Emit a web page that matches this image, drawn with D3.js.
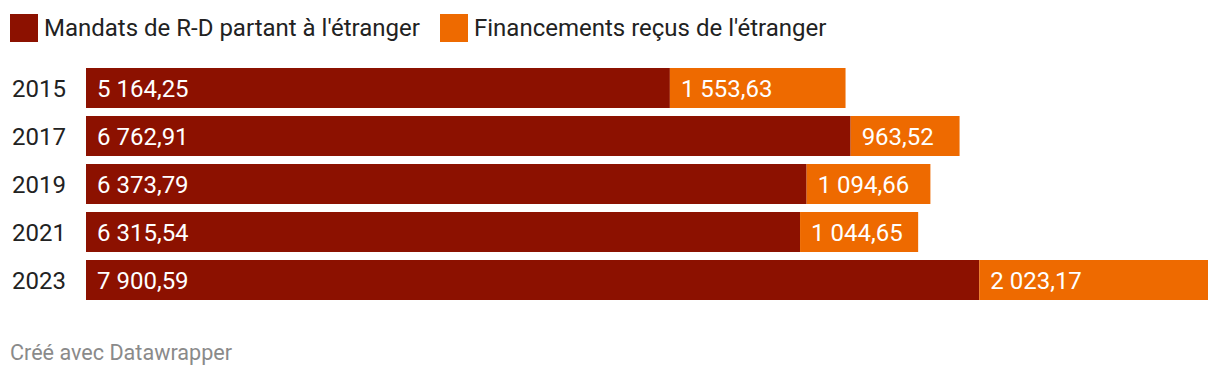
<!DOCTYPE html>
<html>
<head>
<meta charset="utf-8">
<script src="https://cdn.jsdelivr.net/npm/d3@7"></script>
<style>
  body { margin: 0; background: #fff; font-family: Roboto, sans-serif; }
</style>
</head>
<body>
<script>
// Data
var years = ['2015', '2017', '2019', '2021', '2023'];
var mandats = [5164.25, 6762.91, 6373.79, 6315.54, 7900.59];
var financements = [1553.63, 963.52, 1094.66, 1044.65, 2023.17];
var seriesNames = ["Mandats de R-D partant à l'étranger", "Financements reçus de l'étranger"];
var colors = ['#8c1100', '#ee6a00'];

var width = 1220, height = 378;
var barLeft = 86, barRight = 1208, barTop = 68;
var step = 48, barH = 40;

var fmt = function(v) {
    var s = v.toFixed(2).split('.');
    return s[0].replace(/\B(?=(\d{3})+(?!\d))/g, '\u00a0') + ',' + s[1];
};

var svg = d3.select('body').append('svg')
    .attr('width', width)
    .attr('height', height)
    .style('font-family', 'Roboto, sans-serif');

var x = d3.scaleLinear()
    .domain([0, d3.max(years, function(d, i) { return mandats[i] + financements[i]; })])
    .range([barLeft, barRight]);

var y = d3.scaleBand()
    .domain(years)
    .range([barTop, barTop + step * (years.length - 1) + barH])
    .paddingInner((step - barH) / step)
    .paddingOuter(0);

// Legend
var legendX = [10, 440];
seriesNames.forEach(function(name, i) {
    svg.append('rect')
        .attr('x', legendX[i]).attr('y', 14)
        .attr('width', 28).attr('height', 28)
        .attr('fill', colors[i]);
    svg.append('text')
        .attr('x', legendX[i] + 34).attr('y', 36)
        .attr('font-size', 24).attr('fill', '#222')
        .text(name);
});

// Rows
var rows = svg.selectAll('.row')
    .data(years)
    .enter().append('g')
    .attr('class', 'row');

rows.append('text')
    .attr('x', 12)
    .attr('y', function(d) { return y(d) + y.bandwidth() / 2 + 8.5; })
    .attr('font-size', 24).attr('fill', '#222')
    .text(function(d) { return d; });

rows.append('rect')
    .attr('x', x(0))
    .attr('y', function(d) { return y(d); })
    .attr('height', y.bandwidth())
    .attr('width', function(d, i) { return x(mandats[i]) - x(0); })
    .attr('fill', colors[0]);

rows.append('rect')
    .attr('x', function(d, i) { return x(mandats[i]); })
    .attr('y', function(d) { return y(d); })
    .attr('height', y.bandwidth())
    .attr('width', function(d, i) { return x(mandats[i] + financements[i]) - x(mandats[i]); })
    .attr('fill', colors[1]);

rows.append('text')
    .attr('x', x(0) + 11)
    .attr('y', function(d) { return y(d) + y.bandwidth() / 2 + 8.5; })
    .attr('font-size', 24).attr('fill', '#fff')
    .text(function(d, i) { return fmt(mandats[i]); });

rows.append('text')
    .attr('x', function(d, i) { return x(mandats[i]) + 11; })
    .attr('y', function(d) { return y(d) + y.bandwidth() / 2 + 8.5; })
    .attr('font-size', 24).attr('fill', '#fff')
    .text(function(d, i) { return fmt(financements[i]); });

// Footer
svg.append('text')
    .attr('x', 10).attr('y', 360)
    .attr('font-size', 21.6).attr('fill', '#8a8a8a')
    .text('Créé avec Datawrapper');
</script>
</body>
</html>
